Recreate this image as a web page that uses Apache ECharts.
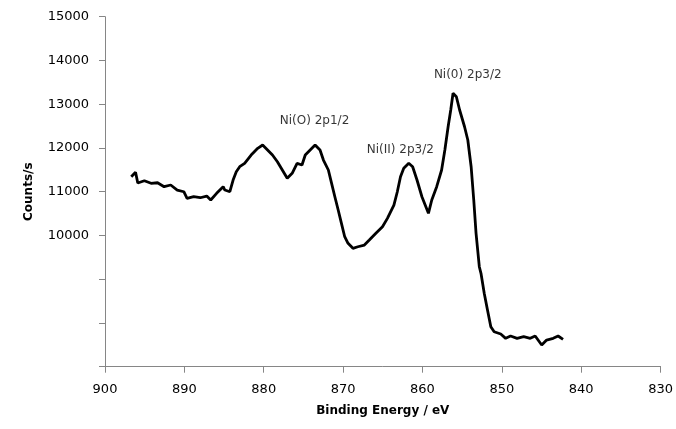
<!DOCTYPE html>
<html>
<head>
<meta charset="utf-8">
<script src="https://cdn.jsdelivr.net/npm/echarts@6/dist/echarts.min.js"></script>
<style>
html,body{margin:0;padding:0;background:#fff;}
#chart{width:676px;height:429px;}
</style>
</head>
<body>
<div id="chart"></div>
<script>
// Binding energy (eV) and counts/s
const energy = [
  896.69, 896.15, 895.87, 895.04, 894.20, 893.38, 892.55, 891.72, 890.90, 890.07,
  889.66, 888.83, 888.00, 887.18, 886.68, 885.94, 885.11, 884.90, 884.27, 883.86,
  883.46, 883.03, 882.41, 881.59, 880.76, 880.14, 879.52, 878.90, 878.28, 877.66,
  877.04, 876.42, 875.80, 875.18, 874.77, 874.15, 873.53, 873.32, 872.91, 872.48,
  871.86, 871.45, 871.04, 870.62, 870.21, 869.80, 869.38, 868.76, 868.14, 867.32,
  866.70, 865.87, 865.04, 864.42, 863.60, 863.17, 862.77, 862.36, 861.73, 861.24,
  860.69, 860.07, 859.66, 859.25, 858.83, 858.21, 857.59, 857.18, 856.77, 856.44,
  856.15, 855.73, 855.32, 854.70, 854.29, 853.87, 853.54, 853.25, 852.84, 852.63,
  852.22, 851.81, 851.39, 850.97, 850.14, 849.52, 848.90, 848.08, 847.25, 846.42,
  845.80, 844.98, 844.36, 843.53, 842.91, 842.29
];
const counts = [
  11342, 11443, 11198, 11251, 11192, 11205, 11114, 11153, 11038, 10999,
  10849, 10885, 10862, 10901, 10810, 10963, 11114, 11038, 10999, 11267,
  11457, 11571, 11649, 11838, 11992, 12067, 11953, 11838, 11685, 11496,
  11306, 11420, 11649, 11610, 11838, 11953, 12067, 12106, 11953, 11724,
  11496, 11192, 10885, 10581, 10277, 9971, 9820, 9706, 9742, 9781,
  9895, 10049, 10199, 10391, 10695, 10999, 11342, 11534, 11649, 11571,
  11267, 10885, 10695, 10506, 10810, 11114, 11496, 11953, 12485, 12867,
  13249, 13171, 12867, 12485, 12181, 11571, 10810, 10049, 9285, 9134,
  8677, 8295, 7913, 7799, 7747, 7648, 7701, 7648, 7685, 7648,
  7701, 7495, 7609, 7648, 7701, 7625
];
// Peak annotations: label text and anchor position (energy, counts)
const peakLabels = ['Ni(O) 2p1/2', 'Ni(II) 2p3/2', 'Ni(0) 2p3/2'];
const peakEnergy = [873.6, 862.8, 854.3];
const peakCounts = [12616, 11953, 13667];

const xTicks = [830, 840, 850, 860, 870, 880, 890, 900];
const yLabelMin = 10000;

const lineData = energy.map((e, i) => [e, counts[i]]);
const labelData = peakLabels.map((n, i) => ({ name: n, value: [peakEnergy[i], peakCounts[i]] }));

const FONT = 'DejaVu Sans';
const chart = echarts.init(document.getElementById('chart'), null, { renderer: 'canvas' });
chart.setOption({
  animation: false,
  backgroundColor: '#ffffff',
  grid: { left: 105, right: 7, top: 16.7, bottom: 62.3, containLabel: false },
  xAxis: {
    type: 'value',
    min: xTicks[0],
    max: xTicks[xTicks.length - 1],
    interval: 10,
    inverse: true,
    name: 'Binding Energy / eV',
    nameLocation: 'middle',
    nameGap: 38,
    nameTextStyle: { fontFamily: FONT, fontSize: 12, fontWeight: 'bold', color: '#000' },
    axisLine: { show: true, onZero: false, lineStyle: { color: '#868686', width: 1 } },
    axisTick: { show: true, inside: false, length: 6, lineStyle: { color: '#868686' } },
    axisLabel: { fontFamily: FONT, fontSize: 13, color: '#000', margin: 16 },
    splitLine: { show: false }
  },
  yAxis: {
    type: 'value',
    min: 7000,
    max: 15000,
    interval: 1000,
    name: 'Counts/s',
    nameLocation: 'middle',
    nameGap: 70,
    nameRotate: 90,
    nameTextStyle: { fontFamily: FONT, fontSize: 12, fontWeight: 'bold', color: '#000' },
    axisLine: { show: true, lineStyle: { color: '#868686', width: 1 } },
    axisTick: { show: true, inside: false, length: 6, lineStyle: { color: '#868686' } },
    axisLabel: {
      fontFamily: FONT, fontSize: 13, color: '#000', margin: 16,
      formatter: v => (v >= yLabelMin ? String(v) : '')
    },
    splitLine: { show: false }
  },
  series: [
    {
      type: 'line',
      data: lineData,
      showSymbol: false,
      symbol: 'none',
      lineStyle: { color: '#000', width: 2.8 },
      z: 2
    },
    {
      type: 'scatter',
      data: labelData,
      symbolSize: 1,
      itemStyle: { color: 'rgba(0,0,0,0)' },
      label: {
        show: true,
        position: 'inside',
        formatter: p => p.name,
        fontFamily: FONT,
        fontSize: 12,
        color: '#000'
      },
      z: 3
    }
  ]
});
</script>
</body>
</html>
